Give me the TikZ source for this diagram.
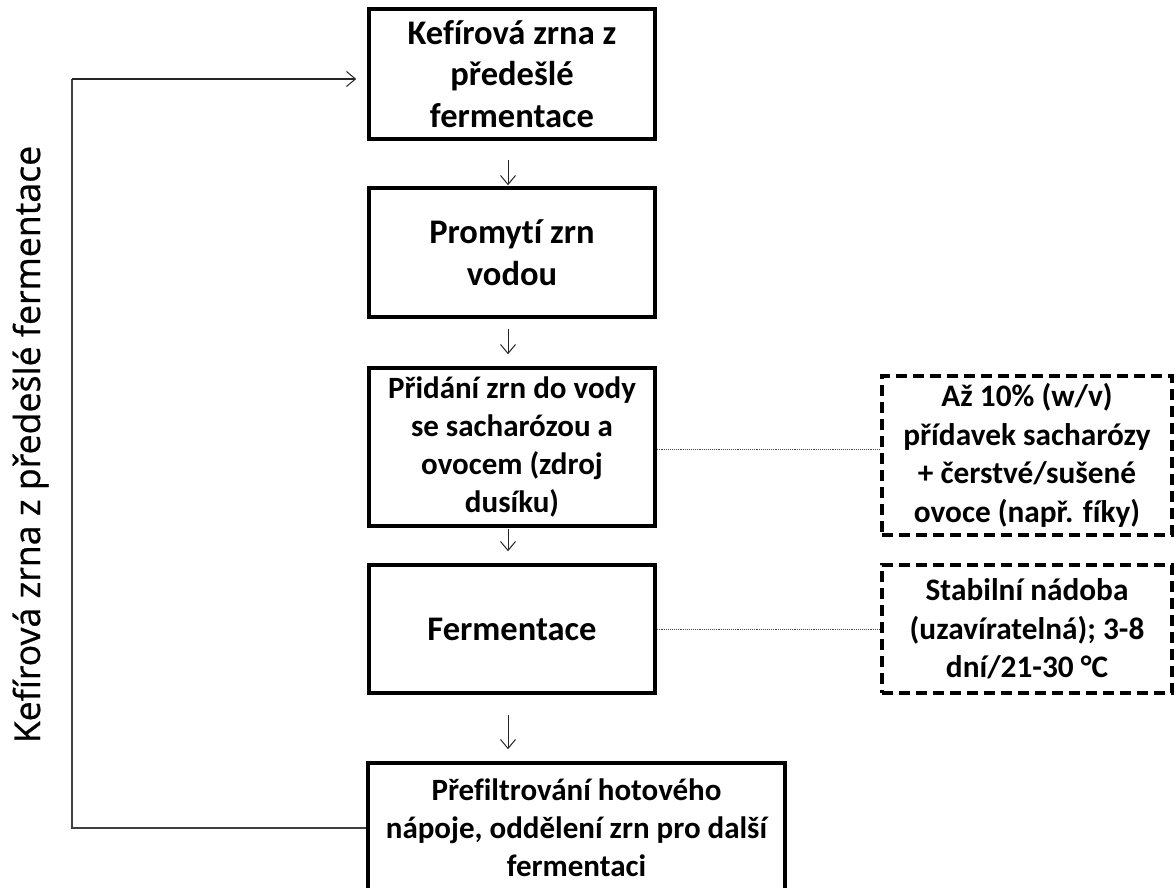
\documentclass[tikz,border=0pt]{standalone}
\usepackage{fontspec}
\setmainfont{Carlito}[Ligatures=NoCommon]
\newfontfamily\sidefont{Open Sans}[FakeBold=0.7]
\usetikzlibrary{arrows.meta}
\begin{document}
\begin{tikzpicture}[x=1pt,y=-1pt,
  stepbox/.style={draw=black, line width=3.5pt, inner sep=0pt, align=center},
  notebox/.style={draw=black, line width=3.2pt, dash pattern=on 11pt off 6pt, inner sep=0pt,
    align=center, minimum width=290pt, font=\bfseries\fontsize{31.3}{38.5}\selectfont},
  big/.style={font=\bfseries\fontsize{34.5}{41.5}\selectfont},
  small/.style={font=\bfseries\fontsize{31}{38}\selectfont},
  flow/.style={draw=black!85, line width=1pt, -{Straight Barb[length=9pt,width=15pt,line width=1pt]}},
  link/.style={draw=black!70, line width=0.9pt, densely dotted},
  back/.style={draw=black!75, line width=1.3pt}]
\useasboundingbox (0,0) rectangle (1176,888);
\clip (0,0) rectangle (1176,888);

\node[stepbox, big, minimum width=286pt, minimum height=130pt] (b1) at (512,74)
  {Kefírová zrna z\\předešlé\\fermentace};
\node[stepbox, big, minimum width=286pt, minimum height=129pt] (b2) at (512,252.5)
  {Promytí zrn\\vodou};
\node[stepbox, small, minimum width=286pt, minimum height=158pt] (b3) at (512,447)
  {Přidání zrn do vody\\se sacharózou a\\ovocem (zdroj\\dusíku)};
\node[stepbox, big, minimum width=286pt, minimum height=128pt] (b4) at (512,629)
  {Fermentace};
\node[stepbox, small, minimum width=417pt, minimum height=130pt] (b5) at (576.5,828)
  {Přefiltrování hotového\\nápoje, oddělení zrn pro další\\fermentaci};

\node[notebox, minimum height=159pt] (n1) at (1027,455.5)
  {Až 10\% (w/v)\\přídavek sacharózy\\+ čerstvé/sušené\\ovoce (např. fíky)};
\node[notebox, minimum height=128pt] (n2) at (1027,629)
  {Stabilní nádoba\\(uzavíratelná); 3-8\\dní/21-30 °C};

\node[rotate=90, anchor=base, font=\sidefont\fontsize{35.7}{40}\selectfont] (side) at (40,444.5)
  {Kefírová zrna z předešlé fermentace};

\draw[flow, shorten <=19pt, shorten >=1pt] ([xshift=-4pt]b1.south) -- ([xshift=-4pt]b2.north);
\draw[flow, shorten <=10pt, shorten >=12pt] ([xshift=-4pt]b2.south) -- ([xshift=-4pt]b3.north);
\draw[flow, shorten <=1pt, shorten >=12pt] ([xshift=-4pt]b3.south) -- ([xshift=-4pt]b4.north);
\draw[flow, shorten <=20pt, shorten >=12pt] ([xshift=-4pt]b4.south) -- ([xshift=-4pt]b4.south |- b5.north);

\draw[link] ([yshift=-2pt]b3.east) -- ([yshift=-2pt]n1.west |- b3.east);
\draw[link] (b4.east) -- (n2.west);

\coordinate (c2) at (72,79);
\draw[back] (b5.west) -- (b5.west -| c2) -- (c2);
\draw[flow, line width=1.3pt, shorten >=11pt] (c2) -- (c2 -| b1.west);
\end{tikzpicture}
\end{document}
